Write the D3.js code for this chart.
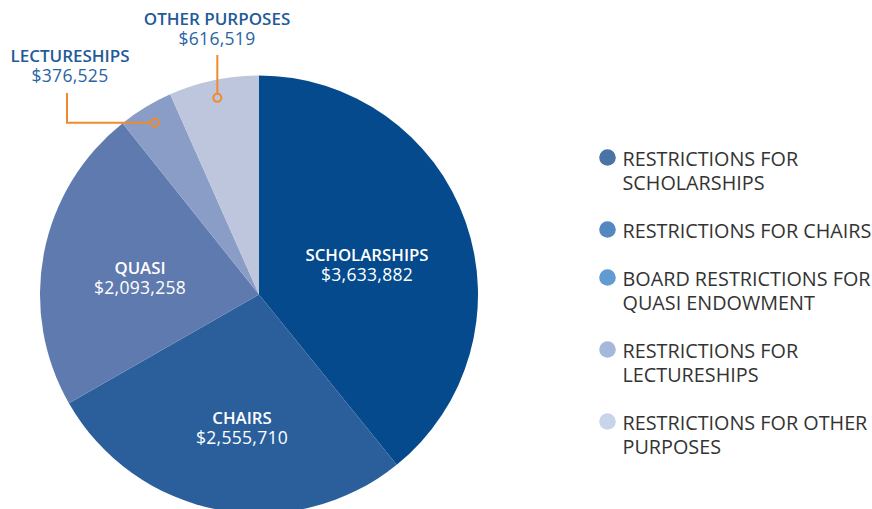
<!DOCTYPE html>
<html>
<head>
<meta charset="utf-8">
<script src="https://cdn.jsdelivr.net/npm/d3@7"></script>
<style>
  body { margin: 0; background: #fff; }
  svg text { font-family: "Open Sans", "Noto Sans", sans-serif; }
</style>
</head>
<body>
<div id="chart"></div>
<script>
// Slices, clockwise from 12 o'clock
const names = ["SCHOLARSHIPS", "CHAIRS", "QUASI", "LECTURESHIPS", "OTHER PURPOSES"];
const values = [3633882, 2555710, 2093258, 376525, 616519];
const sliceColors = ["#044a8c", "#2a5f9c", "#5f7aae", "#8a9dc6", "#bec6de"];

// Legend
const legendLines = [
  ["RESTRICTIONS FOR", "SCHOLARSHIPS"],
  ["RESTRICTIONS FOR CHAIRS"],
  ["BOARD RESTRICTIONS FOR", "QUASI ENDOWMENT"],
  ["RESTRICTIONS FOR", "LECTURESHIPS"],
  ["RESTRICTIONS FOR OTHER", "PURPOSES"]
];
const legendColors = ["#4a73a6", "#5587c0", "#609bd2", "#a5b8db", "#c8d4ea"];

const width = 872, height = 509;
const cx = 259, cy = 294.5, radius = 219;
const fmt = d3.format("$,");

const svg = d3.select("#chart").append("svg")
  .attr("width", width)
  .attr("height", height);

const data = names.map((n, i) => ({name: n, value: values[i], color: sliceColors[i]}));

const pie = d3.pie().sort(null).value(d => d.value);
const arcs = pie(data);
const arc = d3.arc().innerRadius(0).outerRadius(radius);

const g = svg.append("g").attr("transform", `translate(${cx},${cy})`);

g.selectAll("path")
  .data(arcs)
  .enter()
  .append("path")
  .attr("d", arc)
  .attr("fill", d => d.data.color);

// labels inside the three big slices, placed relative to the pie center
const insidePos = [[108, -33.5], [-17, 129.5], [-119, -21]];
arcs.slice(0, 3).forEach((d, i) => {
  const lbl = g.append("text")
    .attr("text-anchor", "middle")
    .attr("fill", "#fff")
    .attr("transform", `translate(${insidePos[i][0]},${insidePos[i][1]})`);
  lbl.append("tspan")
    .attr("x", 0).attr("y", 0)
    .style("font-size", "16.8px")
    .style("font-weight", 600)
    .text(d.data.name);
  lbl.append("tspan")
    .attr("x", 0).attr("dy", 20)
    .style("font-size", "17.5px")
    .style("letter-spacing", "0.3px")
    .text(fmt(d.data.value));
});

// callouts for the two thin slices
const orange = "#f08a2c";
const dotArc = d3.arc().innerRadius(201).outerRadius(201);
const callouts = [
  {slice: arcs[3], textX: 70, textY: 62, elbowX: 67 - cx, topY: 93 - cy},
  {slice: arcs[4], textX: 217, textY: 25, topY: 55 - cy}
];

callouts.forEach((c, i) => {
  const p = dotArc.centroid(c.slice);
  if (i === 0) {
    g.append("polyline")
      .attr("points", `${p[0] - 4},${p[1]} ${c.elbowX},${p[1]} ${c.elbowX},${c.topY}`)
      .attr("fill", "none")
      .attr("stroke", orange)
      .attr("stroke-width", 2);
  } else {
    g.append("line")
      .attr("x1", p[0]).attr("y1", p[1] - 4)
      .attr("x2", p[0]).attr("y2", c.topY)
      .attr("stroke", orange)
      .attr("stroke-width", 2);
  }
  g.append("circle")
    .attr("cx", p[0]).attr("cy", p[1])
    .attr("r", 4)
    .attr("fill", "none")
    .attr("stroke", orange)
    .attr("stroke-width", 2);

  const t = svg.append("text")
    .attr("text-anchor", "middle")
    .attr("x", c.textX)
    .attr("y", c.textY);
  t.append("tspan")
    .attr("x", c.textX)
    .attr("fill", "#1f5a99")
    .style("font-size", "17px")
    .style("font-weight", 600)
    .text(c.slice.data.name);
  t.append("tspan")
    .attr("x", c.textX)
    .attr("dy", 19.5)
    .attr("fill", "#2a64a5")
    .style("font-size", "17.5px")
    .style("letter-spacing", "0.3px")
    .text(fmt(c.slice.data.value));
});

// legend
const legend = svg.append("g").attr("transform", "translate(607.5,0)");
let y = 166;
legendLines.forEach((lines, i) => {
  legend.append("circle")
    .attr("cx", 0)
    .attr("cy", y - 8.5)
    .attr("r", 8.3)
    .attr("fill", legendColors[i]);
  const t = legend.append("text")
    .attr("x", 15)
    .attr("y", y)
    .attr("fill", "#333")
    .style("font-size", "19.8px");
  lines.forEach((l, j) => {
    t.append("tspan")
      .attr("x", 15)
      .attr("dy", j === 0 ? 0 : 24)
      .text(l);
  });
  y += lines.length * 24 + 24;
});
</script>
</body>
</html>
